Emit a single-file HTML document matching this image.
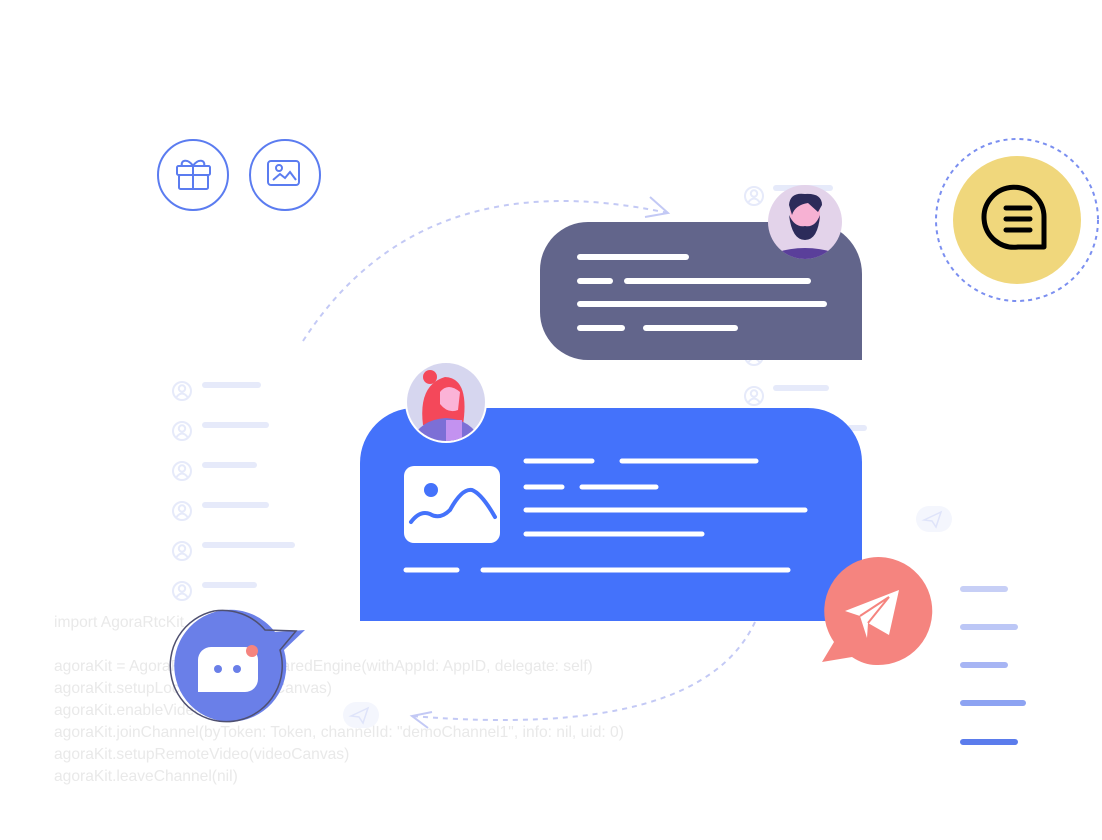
<!DOCTYPE html>
<html><head><meta charset="utf-8"><style>
html,body{margin:0;padding:0;background:#fff;}
svg{display:block;}
text{font-family:"Liberation Sans",sans-serif;}
</style></head><body>
<svg width="1102" height="840" viewBox="0 0 1102 840" xmlns="http://www.w3.org/2000/svg">
<rect width="1102" height="840" fill="#fff"/>
<defs>
<g id="pi"><circle r="9" fill="none"/><circle cy="-2.5" r="3.2" fill="none"/><path d="M-5.5 6 Q0 -1 5.5 6" fill="none"/></g>
</defs>
<g stroke="#e6eafa" stroke-width="2">
<use href="#pi" x="182" y="391"/><use href="#pi" x="182" y="431"/><use href="#pi" x="182" y="471"/>
<use href="#pi" x="182" y="511"/><use href="#pi" x="182" y="551"/><use href="#pi" x="182" y="591"/>
<use href="#pi" x="754" y="196"/><use href="#pi" x="754" y="396"/><use href="#pi" x="754" y="356"/>
</g>
<g stroke="#e6eafa" stroke-width="6" stroke-linecap="round">
<line x1="205" y1="385" x2="258" y2="385"/><line x1="205" y1="425" x2="266" y2="425"/>
<line x1="205" y1="465" x2="254" y2="465"/><line x1="205" y1="505" x2="266" y2="505"/>
<line x1="205" y1="545" x2="292" y2="545"/><line x1="205" y1="585" x2="254" y2="585"/>
<line x1="776" y1="188" x2="830" y2="188"/><line x1="776" y1="388" x2="826" y2="388"/>
<line x1="850" y1="428" x2="864" y2="428"/>
</g>
<g fill="#e9e9e9" font-size="15.6">
<text x="54" y="627">import AgoraRtcKit</text>
<text x="54" y="671">agoraKit = AgoraRtcEngineKit.sharedEngine(withAppId: AppID, delegate: self)</text>
<text x="54" y="693">agoraKit.setupLocalVideo(videoCanvas)</text>
<text x="54" y="715">agoraKit.enableVideo()</text>
<text x="54" y="737">agoraKit.joinChannel(byToken: Token, channelId: "demoChannel1", info: nil, uid: 0)</text>
<text x="54" y="759">agoraKit.setupRemoteVideo(videoCanvas)</text>
<text x="54" y="781">agoraKit.leaveChannel(nil)</text>
</g>
<path d="M303 341 Q420 160 668 213" fill="none" stroke="#c3c9f5" stroke-width="2" stroke-dasharray="5 5"/>
<path d="M650 197 L668 213 L645 217" fill="none" stroke="#c3c9f5" stroke-width="2"/>
<path d="M755 622 Q700 740 412 716" fill="none" stroke="#c3c9f5" stroke-width="2" stroke-dasharray="5 5"/>
<path d="M432 712 L412 716 L428 728" fill="none" stroke="#c3c9f5" stroke-width="2"/>
<g stroke="#5b7cf0" stroke-width="2" fill="none">
<circle cx="193" cy="175" r="35"/><circle cx="285" cy="175" r="35"/>
<rect x="177" y="166" width="33" height="9" rx="1.5"/><rect x="179" y="175" width="29" height="14" rx="1.5"/>
<line x1="193" y1="166" x2="193" y2="189"/>
<path d="M193 166 C188 158 180 160 182 166 M193 166 C198 158 206 160 204 166"/>
<rect x="268" y="161" width="31" height="24" rx="3"/>
<circle cx="279" cy="168" r="3"/><path d="M273 180 L280 174 L285 178 L290 172 L296 180"/>
</g>
<rect x="916" y="506" width="36" height="26" rx="13" fill="#f4f6fd"/>
<path d="M924 520 L941 512 L936 527 L932 521 Z" fill="none" stroke="#dfe4fa" stroke-width="1.5"/>
<rect x="343" y="702" width="36" height="26" rx="13" fill="#f4f6fd"/>
<path d="M351 716 L368 708 L363 723 L359 717 Z" fill="none" stroke="#dfe4fa" stroke-width="1.5"/>
<path d="M588 222 H810 A52 52 0 0 1 862 274 V360 H588 A48 48 0 0 1 540 312 V270 A48 48 0 0 1 588 222 Z" fill="#62658b"/>
<g stroke="#fff" stroke-width="6" stroke-linecap="round">
<line x1="580" y1="257" x2="686" y2="257"/>
<line x1="580" y1="281" x2="610" y2="281"/><line x1="627" y1="281" x2="808" y2="281"/>
<line x1="580" y1="304" x2="824" y2="304"/>
<line x1="580" y1="328" x2="622" y2="328"/><line x1="646" y1="328" x2="735" y2="328"/>
</g>
<circle cx="805" cy="222" r="37" fill="#e3d3ea"/>
<clipPath id="cm"><circle cx="805" cy="222" r="37"/></clipPath>
<g clip-path="url(#cm)">
<ellipse cx="805" cy="262" rx="38" ry="14" fill="#5a3f9a"/>
<rect x="790" y="197" width="30" height="30" rx="8" fill="#f7b1d3"/>
<path d="M789 215 Q792 240 805 240 Q818 240 820 215 Q815 228 805 226 Q795 228 789 215Z" fill="#2c2b5a"/>
<path d="M789 205 Q790 192 805 194 Q822 193 822 205 L818 212 L808 203 Q795 205 792 215Z" fill="#2c2b5a"/>
</g>
<circle cx="1017" cy="220" r="81" fill="none" stroke="#7b8ff0" stroke-width="2" stroke-dasharray="4 4"/>
<circle cx="1017" cy="220" r="64" fill="#f0d77c"/>
<path d="M1044 247 H1018 A30 30 0 1 1 1044 218 Z" fill="none" stroke="#000" stroke-width="5" stroke-linejoin="round"/>
<g stroke="#000" stroke-width="5" stroke-linecap="round">
<line x1="1006" y1="208" x2="1030" y2="208"/><line x1="1006" y1="219" x2="1030" y2="219"/><line x1="1006" y1="230" x2="1030" y2="230"/>
</g>
<path d="M415 408 H808 A54 54 0 0 1 862 462 V621 H360 V463 A55 55 0 0 1 415 408 Z" fill="#4472fb"/>
<rect x="404" y="466" width="96" height="77" rx="10" fill="#fff"/>
<circle cx="431" cy="490" r="7" fill="#4472fb"/>
<path d="M411 522 Q420 510 430 514 Q440 520 450 510 Q462 488 472 490 Q482 494 495 517" fill="none" stroke="#4472fb" stroke-width="4" stroke-linecap="round"/>
<g stroke="#fff" stroke-width="5" stroke-linecap="round">
<line x1="526" y1="461" x2="592" y2="461"/><line x1="622" y1="461" x2="756" y2="461"/>
<line x1="526" y1="487" x2="562" y2="487"/><line x1="582" y1="487" x2="656" y2="487"/>
<line x1="526" y1="510" x2="805" y2="510"/>
<line x1="526" y1="534" x2="702" y2="534"/>
<line x1="406" y1="570" x2="457" y2="570"/><line x1="483" y1="570" x2="788" y2="570"/>
</g>
<circle cx="446" cy="402" r="41" fill="#fff"/>
<circle cx="446" cy="402" r="39" fill="#d6d6ef"/>
<clipPath id="cw"><circle cx="446" cy="402" r="39"/></clipPath>
<g clip-path="url(#cw)">
<circle cx="430" cy="377" r="7" fill="#f4485a"/>
<path d="M423 425 Q418 385 445 377 Q470 378 463 425Z" fill="#f4485a"/>
<path d="M440 392 Q448 382 460 392 L458 410 Q448 414 440 404Z" fill="#fbb3d7"/>
<path d="M410 450 Q414 420 446 418 Q478 420 482 450Z" fill="#7c6fd6"/>
<rect x="446" y="420" width="16" height="30" fill="#c392f0"/>
</g>
<path d="M834 642 L822 662 L852 657 Q864 665 876 665 A54 54 0 1 0 834 642 Z" fill="#f5847f"/>
<path d="M845 611 L899 590 L889 635 L868 623 L867 638 L860 616 Z" fill="#fff"/>
<path d="M860 616 L889 597 L868 623" fill="none" stroke="#f5847f" stroke-width="2"/>
<g stroke-width="6" stroke-linecap="round">
<line x1="963" y1="589" x2="1005" y2="589" stroke="#c7cff6"/>
<line x1="963" y1="627" x2="1015" y2="627" stroke="#bcc7f6"/>
<line x1="963" y1="665" x2="1005" y2="665" stroke="#a7b5f4"/>
<line x1="963" y1="703" x2="1023" y2="703" stroke="#8da3f2"/>
<line x1="963" y1="742" x2="1015" y2="742" stroke="#5b7cec"/>
</g>
<path d="M225 610 A56 56 0 0 1 275 632 L305 630 L284 650 A56 56 0 1 1 225 610 Z" fill="#6a7fe8"/>
<path d="M214 611 A56 56 0 0 1 265 630 L296 631 L280 650 A56 56 0 1 1 214 611 Z" fill="none" stroke="#4f5070" stroke-width="1.5"/>
<path d="M198 692 V660 A13 13 0 0 1 211 647 H245 A13 13 0 0 1 258 660 V679 A13 13 0 0 1 245 692 Z" fill="#fff"/>
<circle cx="218" cy="669" r="4" fill="#6a7fe8"/><circle cx="237" cy="669" r="4" fill="#6a7fe8"/>
<circle cx="252" cy="651" r="6" fill="#f5847f"/>
</svg>
</body></html>
